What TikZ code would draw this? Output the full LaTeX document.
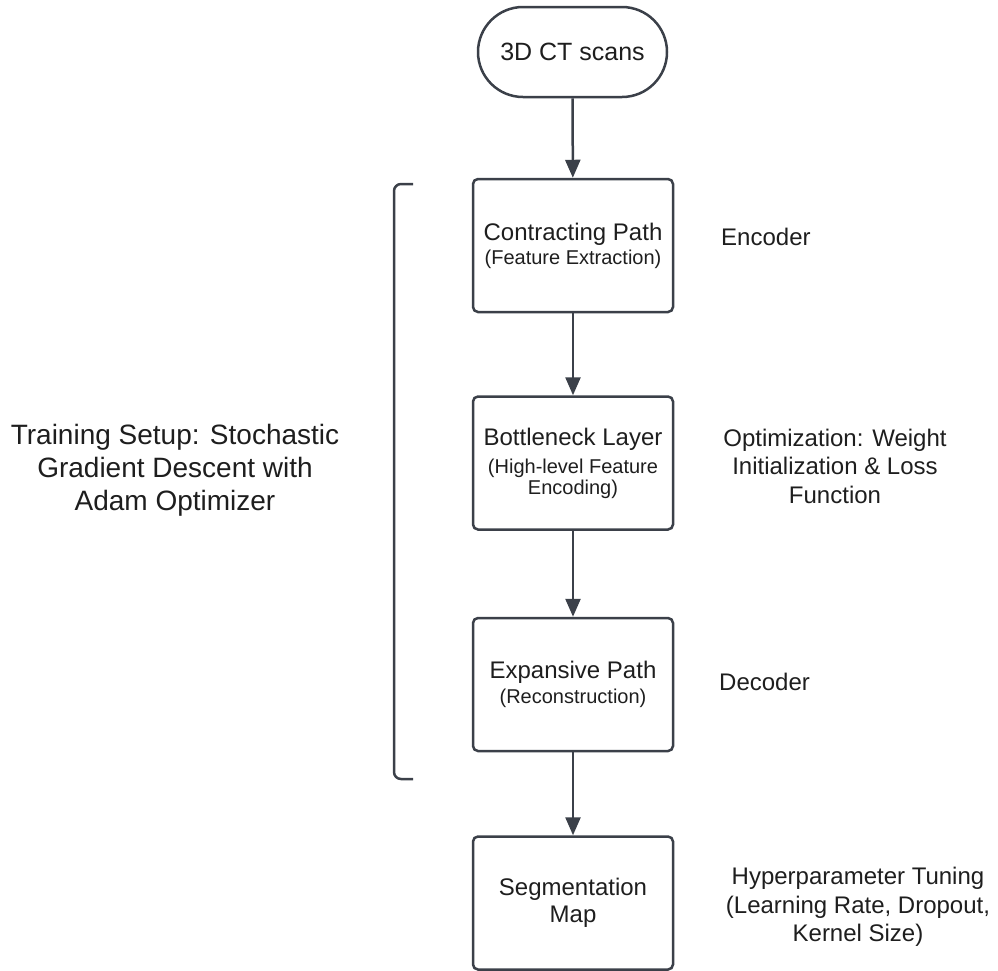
\documentclass[tikz,border=0pt]{standalone}
\usepackage{fontspec}
\setmainfont{Liberation Sans}
\usetikzlibrary{arrows.meta,shapes.misc}
\definecolor{edgec}{HTML}{3B4049}
\definecolor{txtc}{HTML}{1E1E1E}
\tikzset{
  flowbox/.style={draw=edgec, line width=2.5pt, rounded corners=5pt, minimum width=200pt, minimum height=133pt, inner sep=0pt, align=center, text=txtc, font=\fontsize{24}{26}\selectfont},
  startbox/.style={draw=edgec, line width=2.5pt, rounded rectangle, minimum width=189pt, minimum height=90pt, inner sep=0pt, text=txtc, font=\fontsize{25}{28}\selectfont},
  flowarrow/.style={draw=edgec, line width=2.5pt, -{Triangle[width=15pt,length=18pt]}},
  sidelabel/.style={text=txtc, align=center, font=\fontsize{24}{28.5}\selectfont, inner sep=0pt}
}
\newcommand{\subtxt}[1]{{\fontsize{20}{22}\selectfont #1}}
\begin{document}
\begin{tikzpicture}[x=1pt,y=-1pt]
\useasboundingbox (0,0) rectangle (998,970);
\node[startbox] (start) at (572.5,52) {3D CT scans};
\node[flowbox] (enc) at (573,245.5) {Contracting Path\\[-2pt]\subtxt{(Feature Extraction)}};
\node[flowbox] (bott) at (573,463) {Bottleneck Layer\\[2pt]\subtxt{(High-level Feature}\\[-5pt]\subtxt{Encoding)}};
\node[flowbox] (dec) at (573,684.5) {Expansive Path\\[-1pt]\subtxt{(Reconstruction)}};
\node[flowbox] (seg) at (573,903) {Segmentation\\[1pt]Map};
\draw[flowarrow] (start) -- (enc);
\draw[flowarrow] (enc) -- (bott);
\draw[flowarrow] (bott) -- (dec);
\draw[flowarrow] (dec) -- (seg);
\coordinate (brtop) at (413,184);
\coordinate (brbot) at (413,779);
\draw[edgec, line width=2.5pt, rounded corners=7pt] (brtop) -- (394,184) -- (394,779) -- (brbot);
\node[sidelabel, font=\fontsize{28}{33}\selectfont] (train) at (175,470) {Training Setup: Stochastic\\Gradient Descent with\\Adam Optimizer};
\node[sidelabel, anchor=west] (enclab) at (721,237) {Encoder};
\node[sidelabel] (optlab) at (835,466) {Optimization: Weight\\Initialization \& Loss\\Function};
\node[sidelabel, anchor=west] (declab) at (719,682) {Decoder};
\node[sidelabel] (hyplab) at (858,907) {Hyperparameter Tuning\\(Learning Rate, Dropout,\\Kernel Size)};
\end{tikzpicture}
\end{document}
